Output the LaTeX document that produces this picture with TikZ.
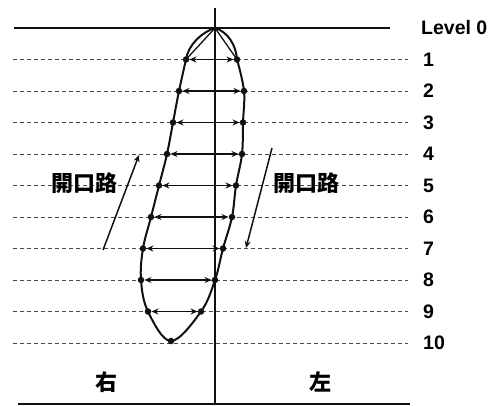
\documentclass[tikz,border=0pt]{standalone}
\usepackage{fontspec}
\setmainfont{Liberation Sans}
\newfontfamily\cjk{Noto Sans CJK JP}
\usetikzlibrary{arrows.meta}
\definecolor{ink}{HTML}{111111}
\definecolor{dashgray}{HTML}{4a4a4a}

\begin{document}
\begin{tikzpicture}[x=1pt,y=-1pt,>={Stealth[length=7pt,width=6pt]},
  dot/.style={circle,fill=ink,inner sep=0pt,minimum size=6.5pt},
  lvl/.style={draw=dashgray,line width=1pt,dash pattern=on 4pt off 3pt},
  lvltext/.style={anchor=west,inner sep=0pt,font=\bfseries\fontsize{19.5}{19.5}\selectfont},
  cjktext/.style={inner sep=0pt,font=\cjk\bfseries\fontsize{22}{22}\selectfont}]
  \useasboundingbox (0,0) rectangle (497,405);
  \coordinate (apex) at (215,28);
  \coordinate (vtop) at (215,8);
  \coordinate (vbot) at (215,405);
  \draw[ink,line width=2.6pt] (14,28) -- (390,28);
  \node[lvltext] (lv0) at (421,28) {Level 0};
  \foreach \k in {1,...,10} {
    \coordinate (s\k) at (13,28+31.5*\k);
    \coordinate (e\k) at (408,28+31.5*\k);
    \draw[lvl] (s\k) -- (e\k);
    \node[lvltext] (lv\k) at (423,28+31.5*\k) {\k};
  }
  \draw[ink,line width=2.4pt] (vtop) -- (vbot);
  \draw[ink,line width=1.8pt] (18,404) -- (410,404);
  \foreach \k/\xl/\xr in {1/186/237,2/179/244,3/173/243,4/167/242,5/159/236,
                          6/151/232,7/143/223,8/141/215,9/148/201} {
    \node[dot] (l\k) at (\xl,28+31.5*\k) {};
    \node[dot] (r\k) at (\xr,28+31.5*\k) {};
    \draw[ink,<->,line width=1.6pt] (l\k) -- (r\k);
  }
  \node[dot] (bot) at (171,341) {};
  \draw[ink,line width=2pt] plot[smooth,tension=0.6] coordinates {
    (l1.center) (l2.center) (l3.center) (l4.center) (l5.center) (l6.center)
    (l7.center) (l8.center) (l9.center) (bot.center) (r9.center) (r8.center)
    (r7.center) (r6.center) (r5.center) (r4.center) (r3.center) (r2.center)
    (r1.center)};
  \draw[ink,line width=2pt] (l1.center) .. controls (188,45) and (202,32) .. (apex)
    .. controls (228,32) and (236,45) .. (r1.center);
  \draw[ink,line width=1.3pt] (l1.center) -- (apex) -- (r1.center);
  \coordinate (upS) at (103,250);
  \coordinate (upE) at (139,155);
  \draw[ink,->,line width=1.5pt] (upS) -- (upE);
  \coordinate (dnS) at (272,148);
  \coordinate (dnE) at (246,248);
  \draw[ink,->,line width=1.5pt] (dnS) -- (dnE);
  \node[cjktext] (openl) at (84,183) {開口路};
  \node[cjktext] (openr) at (306,183) {開口路};
  \node[cjktext] (migi) at (106,382) {右};
  \node[cjktext] (hidari) at (320,382) {左};
\end{tikzpicture}
\end{document}
